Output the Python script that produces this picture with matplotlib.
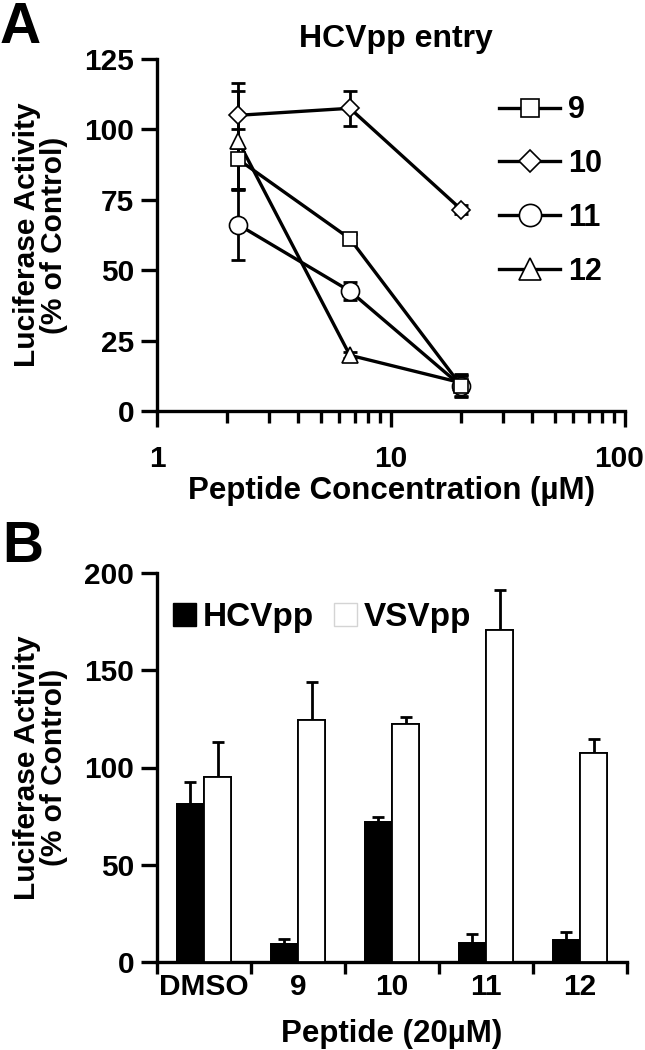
import matplotlib
matplotlib.use("Agg")
import matplotlib.pyplot as plt
from matplotlib.patches import Patch
from matplotlib.lines import Line2D
from matplotlib.transforms import ScaledTranslation
import numpy as np

plt.rcParams['font.family'] = ['Liberation Sans', 'DejaVu Sans']
plt.rcParams['font.weight'] = 'bold'

# ---- Panel A data ----
conc = [2.22, 6.67, 20.0]
pept_labels = ['9', '10', '11', '12']
pept_markers = ['s', 'D', 'o', '^']
act_9 = [89.4, 61.2, 8.8]
act_10 = [105.0, 107.5, 71.5]
act_11 = [66.2, 42.6, 8.8]
act_12 = [96.0, 19.8, 10.0]
err_9 = [10.6, 1.5, 3.5]
err_10 = [11.5, 6.2, 1.5]
err_11 = [12.5, 3.2, 4.0]
err_12 = [17.6, 1.0, 3.0]
xtick_vals = [1, 10, 100]
xtick_labels = ['1', '10', '100']

# ---- Panel B data ----
groups = ['DMSO', '9', '10', '11', '12']
hcv = [81.4, 9.2, 72.2, 9.7, 11.3]
hcv_err = [11.3, 2.6, 2.6, 4.7, 4.0]
vsv = [95.3, 124.5, 122.6, 170.6, 107.5]
vsv_err = [17.7, 19.5, 3.4, 20.9, 7.3]

W, H = 645, 1050
fig = plt.figure(figsize=(W / 100, H / 100), dpi=100)

LW = 2.4
ELW = 2.0
TFS = 21.5


def frac_box(x0, y_top, x1, y_bot):
    return [x0 / W, 1 - y_bot / H, (x1 - x0) / W, (y_bot - y_top) / H]


# ---------------- Panel A ----------------
axA = fig.add_axes(frac_box(157, 59, 625, 411))
series = [act_9, act_10, act_11, act_12]
errs = [err_9, err_10, err_11, err_12]
msizes = [10, 9.2, 13, 12]
leg_msizes = [13, 11, 16, 16]
handles = []
for m, lab, lms in zip(pept_markers, pept_labels, leg_msizes):
    handles.append(Line2D([], [], color='black', lw=LW, marker=m, ms=lms,
                          mfc='white', mec='black', mew=1.2, label=lab))
order = [3, 2, 1, 0]
for k in order:
    axA.errorbar(conc, series[k], yerr=errs[k], fmt='none', ecolor='black',
                 elinewidth=ELW, capsize=4.7, capthick=ELW, zorder=2)
for k in order:
    axA.plot(conc, series[k], color='black', lw=LW, zorder=3)
for k in order:
    axA.plot(conc, series[k], ls='none', marker=pept_markers[k], ms=msizes[k],
             mfc='white', mec='black', mew=1.2, zorder=4 + (3 - k), clip_on=False)

axA.set_xscale('log')
axA.set_xlim(1, 100)
axA.set_ylim(0, 125)
axA.set_yticks([0, 25, 50, 75, 100, 125])
axA.set_xticks(xtick_vals)
axA.set_xticklabels(xtick_labels)
for s in ['top', 'right']:
    axA.spines[s].set_visible(False)
for s in ['left', 'bottom']:
    axA.spines[s].set_linewidth(LW)
axA.tick_params(axis='both', which='major', width=LW, length=11.5, labelsize=TFS)
axA.tick_params(axis='x', which='minor', width=LW, length=8.6)
axA.tick_params(axis='x', which='major', pad=13)
axA.tick_params(axis='y', pad=5)
last = axA.get_xticklabels()[-1]
last.set_transform(last.get_transform() + ScaledTranslation(-6 / 100, 0, fig.dpi_scale_trans))
axA.set_xlabel('Peptide Concentration (µM)', fontsize=22.5, fontweight='bold', labelpad=2)
axA.set_ylabel('Luciferase Activity\n(% of Control)', fontsize=21.5, fontweight='bold',
               labelpad=12, linespacing=0.95)
axA.set_title('HCVpp entry', fontsize=23, fontweight='bold', pad=8.6, x=0.51)
legA = axA.legend(handles=handles, loc='center left', bbox_to_anchor=(0.731, 0.625),
                  frameon=False, fontsize=22, handlelength=2.0, handletextpad=0.26,
                  labelspacing=0.78, borderaxespad=0, borderpad=0)
fig.text(0.0, 1 - 43 / H, 'A', fontsize=41, fontweight='bold', va='baseline', ha='left')

# ---------------- Panel B ----------------
axB = fig.add_axes(frac_box(157, 573, 627, 962))
axB.patch.set_alpha(0)
x = np.arange(len(groups))
w = 0.29
ekw = dict(lw=ELW, capsize=4.5, capthick=ELW, ecolor='black')
axB.bar(x - w / 2, hcv, width=w, color='black', edgecolor='black', lw=1.3,
        yerr=hcv_err, error_kw=ekw)
axB.bar(x + w / 2, vsv, width=w, color='white', edgecolor='black', lw=1.3,
        yerr=vsv_err, error_kw=ekw)
# bars drawn again on top so only the upper half of each error bar shows
axB.bar(x - w / 2, hcv, width=w, color='black', edgecolor='black', lw=1.3, zorder=3)
axB.bar(x + w / 2, vsv, width=w, color='white', edgecolor='black', lw=1.3, zorder=3)

axB.set_xlim(-0.5, len(groups) - 0.5)
axB.set_ylim(0, 200)
axB.set_yticks([0, 50, 100, 150, 200])
axB.set_xticks(x)
axB.set_xticklabels(groups)
axB.set_xticks(np.arange(-0.5, len(groups)), minor=True)
for s in ['top', 'right']:
    axB.spines[s].set_visible(False)
for s in ['left', 'bottom']:
    axB.spines[s].set_linewidth(LW)
axB.tick_params(axis='y', which='major', width=LW, length=11.5, labelsize=TFS, pad=5)
axB.tick_params(axis='x', which='major', length=0, labelsize=TFS, pad=8)
axB.tick_params(axis='x', which='minor', width=LW, length=8.6)
axB.set_xlabel('Peptide (20µM)', fontsize=22.5, fontweight='bold', labelpad=13)
axB.set_ylabel('Luciferase Activity\n(% of Control)', fontsize=21.5, fontweight='bold',
               labelpad=12, linespacing=0.95)
legB = axB.legend(handles=[Patch(facecolor='black', edgecolor='black', label='HCVpp'),
                           Patch(facecolor='white', edgecolor='#d4d4d4', label='VSVpp')],
                  loc='center left', bbox_to_anchor=(0.034, 0.885), ncol=2, frameon=False,
                  fontsize=24, handlelength=0.69, handleheight=0.69,
                  handletextpad=0.2, columnspacing=0.6, borderaxespad=0, borderpad=0)
fig.text(0.004, 1 - 562 / H, 'B', fontsize=41, fontweight='bold', va='baseline', ha='left')

fig.savefig('out.png', dpi=100)
